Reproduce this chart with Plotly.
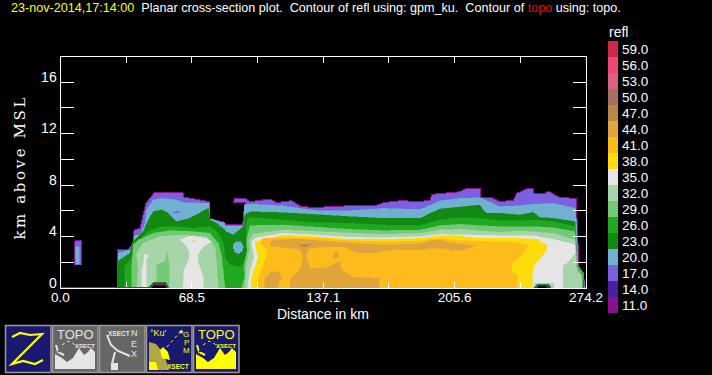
import plotly.graph_objects as go

# ---------- data ----------
levels = ["59.0","56.0","53.0","50.0","47.0","44.0","41.0","38.0","35.0","32.0","29.0","26.0","23.0","20.0","17.0","14.0","11.0"]
level_colors = ["#cc2a4a","#f04676","#dc6080","#a87060","#b8884a","#e0a53a","#fdbc1b","#fddc0c","#e5e5e5","#a5d5a8","#75c875","#20a820","#128a12","#70b0d0","#7b60e0","#4a1fa0","#8b1090"]
C = dict(zip([int(float(l)) for l in levels], level_colors))

x_ticks = [0,34.27,68.5,102.8,137.1,171.4,205.6,239.9,274.2]
x_labels = ["0.0","","68.5","","137.1","","205.6","","274.2"]
y_ticks = [0,2,4,6,8,10,12,14,16,18]
y_labels = ["0","","4","","8","","12","","16",""]

topo_x = [0,46.6]
topo_y = [0,0]

outer = [(29.5,0),(29.5,2.96),(35.2,2.96),(37.8,3.5),(38.4,4.51),(41.5,4.67),(44.6,6.61),(48.8,7.39),(63.9,7.39),(64.4,7.08),(78,6.69),(77.5,5.37),(85.3,5.13),(86.4,4.9),(94.7,4.9),(95.8,5.29),(96.3,6.61),(90,6.61),(91.1,7),(96.8,6.92),(98.9,6.71),(109.3,6.92),(112.8,6.64),(120.6,6.79),(125.9,6.32),(133.7,6.27),(148.5,6.38),(164.1,6.38),(168.5,6.64),(178,6.79),(187.6,6.71),(192.8,6.84),(193.7,7.28),(208.5,7.49),(211.9,7.75),(218.9,7.75),(219.2,7.03),(225,7.03),(229.3,6.71),(236.3,6.84),(238,7.36),(243.2,7.7),(246.7,7.75),(247.1,7.36),(252.8,7.36),(254.5,7.54),(260.6,7.03),(269,6.97),(269.7,4.77),(270.5,1.53),(272.8,1.14),(273.8,0)]
column_17 = [(7.4,1.79),(7.4,3.6),(8.5,3.73),(11.1,3.73),(11.1,1.79)]
column_20 = [(7.9,1.9),(7.9,3.2),(9.8,3.2),(9.8,1.9)]
lvl_20 = [(29.6,0),(30.1,2.7),(36.2,2.96),(37.6,3.48),(38.8,4.12),(41.5,4.12),(44.1,5.03),(44.9,6.07),(48.4,6.84),(52.8,6.97),(60.6,6.84),(64.1,6.64),(77.6,6.58),(77.6,5.42),(85.8,5.03),(85.8,4.82),(95.4,4.82),(95.9,6.45),(98.9,6.53),(116.1,6.38),(133.8,6.01),(151.1,6.01),(168.3,6.19),(187.6,6.1),(198,6.77),(208.5,6.97),(218.9,7.02),(229.3,6.32),(239.8,6.4),(246.6,6.51),(257,6.58),(268.5,6.2),(269.2,5.16),(269.9,1.79),(273,1.14),(273.3,0)]
island_17 = [(58.8,5.86),(60.6,5.99),(62.3,5.86)]
lvl_23 = [(29.6,0),(29.6,2.05),(36.2,2.7),(37.6,3.6),(40.6,3.99),(43.2,4.38),(45.8,5.29),(48.4,5.94),(52.8,6.07),(56.2,5.81),(60.6,5.16),(67.5,5.42),(77.1,6.2),(78,5.29),(81.4,5.03),(86.7,4.38),(90.1,4.12),(95.4,4.77),(96.2,5.68),(98.9,5.93),(116.1,5.86),(133.8,5.68),(151.1,5.55),(168.3,5.42),(187.6,5.42),(198,6.14),(208.5,6.32),(218.9,6.45),(220.5,6.07),(222.4,5.81),(229.3,5.81),(239.8,5.68),(246.6,5.88),(250,5.49),(257,5.42),(268.5,5.16),(269.5,1.79),(272.8,1.07),(273,0)]
eye_20 = [(89.8,3.35),(91.5,3.6),(94,3.6),(95.4,3.2),(94.5,2.83),(92.8,2.65),(90.5,2.83)]

main_km = [98.9,116.1,133.8,151.1,168.3,187.6,198,208.5,218.9,229.3,239.8,246.6,257,268.4]
top_26 = [5.49,5.29,5.08,5.03,4.9,4.85,5.29,5.47,5.42,5.21,5.21,5.29,5.16,4.77]
top_29 = [4.85,4.9,4.72,4.56,4.46,4.51,4.85,4.95,4.85,4.77,4.77,4.77,4.69,4.38]
top_32 = [4.38,4.51,4.38,4.25,4.17,4.25,4.51,4.56,4.43,4.33,4.43,4.38,4.25,3.73]
top_35 = [3.99,4.25,4.12,3.94,3.91,3.99,4.17,4.12,4.07,4.07,4.07,4.07,3.78,3.39]
top_38 = [4.12,3.99,3.78,3.78,3.86,4.07,4.04,3.86,3.86,3.86]

left_26 = [(33.6,0),(33.6,1.66),(38,2.57),(38,3.48),(41.5,3.73),(45.8,4.38),(52.8,4.77),(60.6,4.77),(69.3,4.64),(78,4.77),(82.3,4.25),(84.9,3.48),(85.8,2.44),(88.1,1.79),(93.6,1.61),(97.4,2.18),(98.1,3.2),(96.8,4.25),(97.4,5.16)]
right_26 = [(269.4,1.79),(272.5,1.07),(272.6,0)]
lvl_29_left = [(37.1,0),(37.1,1.4),(38,3.35),(40.6,3.73),(48.4,4.25),(57.1,4.46),(69.3,4.38),(78,4.25),(82.3,3.48),(84.1,2.44),(85.8,0)]
left_29 = [(94.5,0),(96.2,.89),(95.7,1.79),(97.4,2.83),(97.1,3.73),(98.5,4.64)]
right_29 = [(269.2,1.79),(272.1,1.01),(272.3,0)]
lvl_32_left = [(39.7,0),(40.6,1.4),(39.7,2.7),(43.2,3.48),(51.9,3.99),(62.3,4.12),(76.2,3.99),(80.6,3.22),(81.4,1.92),(82.3,0)]
island_29 = [(50.1,0),(50.1,1.79),(54.5,2.05),(55.7,2.7),(56.8,1.66),(56.8,0)]
left_32 = [(96.2,0),(97.1,1.79),(98.8,2.96),(98.5,3.73),(100.6,4.2)]
right_32 = [(269,2.83),(269.3,1.27),(271.8,1.01),(272,0)]
lvl_35_main = [(64.1,0),(64.4,1.4),(66.7,2.05),(67.5,2.7),(65.5,3.35),(62.3,3.73),(67.5,4.05),(76.2,3.86),(78.8,3.6),(74.5,3.22),(71.4,2.57),(71.9,1.92),(74.5,.89),(74.5,0)]
lvl_35_small = [(42.3,0),(42.3,1.4),(43.5,2.05),(43.7,2.57),(45.8,2.57),(44.6,2.18),(44.9,0)]
left_35 = [(98,0),(98.5,.89),(101,2.44),(100.2,3.35),(99.7,3.6),(102.3,3.92)]
right_35 = [(268.5,2.7),(264.1,1.92),(262,1.79),(262,0)]
left_38 = [(99.4,0),(99.4,.75),(103.2,2.31),(101.5,3.6)]
right_38 = [(248.5,3.78),(253.9,3.34),(253.3,2.82),(246.6,1.66),(246.1,1.01),(246.1,0)]
tiny_38 = [(68.4,3.66),(70.1,3.66),(70.1,3.58),(68.4,3.58)]
lvl_41 = [(102.7,0),(103.2,.75),(107.2,2.31),(107.9,2.96),(104.1,3.47),(105.8,3.86),(116.1,3.91),(133.8,3.86),(151.1,3.68),(168.3,3.6),(187.6,3.66),(198,3.86),(208.5,3.68),(222.4,3.6),(236.3,3.55),(244.1,3.34),(239.8,2.44),(235.4,1.92),(235.4,1.27),(238.4,1.01),(238.4,0)]
lvl_44 = [(109.3,3.35),(110.2,3.73),(125,3.79),(133.7,3.68),(151.1,3.48),(168.5,3.35),(187.6,3.42),(192.8,3.66),(198,3.73),(205,3.48),(216.3,3.3),(210.2,2.96),(205,2.91),(199.8,3.09),(192.8,3.09),(187.6,2.96),(173.7,3.01),(165,2.75),(154.6,2.75),(147.6,3.22),(133.7,3.17),(129.3,3.01),(128.1,2.44),(130.2,1.53),(138,1.53),(145.9,2.05),(146.7,1.4),(152.8,.83),(166.4,.76),(166.4,0),(119.8,0),(119.8,.63),(125,1.4),(126.7,2.31),(125,3.01),(116.3,3.17),(111.1,3.22)]
blob_44 = [(106.7,0),(106.7,.76),(110.2,1.27),(113.7,1.27),(115.4,.76),(113.7,.37),(113.7,0)]
island_44 = [(142.4,2.31),(143.2,2.83),(145,2.83),(144.5,2.31)]
lvl_47 = [(124.6,3.35),(131.1,3.4),(128.5,3.22),(125.9,3.22)]
hole_left_rim = [(46,0),(48.6,.42),(55,.42),(56.4,0)]
hole_left = [(47,0),(49.3,.3),(54.5,.3),(55.4,0)]
patch_right = [(246.7,0),(247.6,.36),(257.5,.36),(257.5,0)]
hole_right_rim = [(247.6,0),(249.3,.28),(254.6,.28),(255.8,0)]
hole_right = [(248.8,0),(249.9,.18),(253.3,.18),(254.2,0)]

def band(left, stations, tops, right):
    return left + list(zip(stations, tops)) + right

polys = [
    (outer, C[17], C[11], 1), (column_17, C[17], C[11], 1), (column_20, C[20], None, 0),
    (lvl_20, C[20], None, 0), (island_17, C[17], None, 0), (lvl_23, C[23], None, 0), (eye_20, C[20], None, 0),
    (band(left_26, main_km, top_26, right_26), C[26], None, 0),
    (lvl_29_left, C[29], None, 0),
    (band(left_29, main_km, top_29, right_29), C[29], None, 0),
    (lvl_32_left, C[32], None, 0), (island_29, C[29], None, 0),
    (band(left_32, main_km[1:], top_32[1:], right_32), C[32], None, 0),
    (lvl_35_main, C[35], None, 0), (lvl_35_small, C[35], None, 0),
    (band(left_35, main_km[1:], top_35[1:], right_35), C[35], None, 0),
    (tiny_38, C[38], None, 0),
    (band(left_38, main_km[1:11], top_38, right_38), C[38], None, 0),
    (lvl_41, C[41], None, 0), (lvl_44, C[44], None, 0), (blob_44, C[44], None, 0), (island_44, C[44], None, 0),
    (lvl_47, C[47], None, 0),
    (hole_left_rim, C[11], C[23], 1), (hole_left, "#000000", C[11], 1),
    (patch_right, C[32], None, 0), (hole_right_rim, C[14], C[23], 1.5), (hole_right, "#000000", C[11], 1),
]

# ---------- figure ----------
W, H = 712, 375
fig = go.Figure()
for pts, fill, line, lw in polys:
    fig.add_trace(go.Scatter(
        x=[p[0] for p in pts], y=[p[1] for p in pts], mode="lines", fill="toself",
        fillcolor=fill, line=dict(color=line or fill, width=lw if line else 0.5),
        hoverinfo="skip", showlegend=False, xaxis="x", yaxis="y"))

fig.add_trace(go.Bar(x=[1]*len(levels), y=levels, orientation="h", width=1,
                     marker=dict(color=level_colors, line=dict(width=0)),
                     hoverinfo="skip", showlegend=False, xaxis="x2", yaxis="y2"))

TXT = "Liberation Sans"
shapes = [dict(type="line", xref="x", yref="y", x0=topo_x[0], x1=topo_x[1], y0=topo_y[0], y1=topo_y[1],
               line=dict(color="#ff0000", width=2), layer="above")]
annots = []

def fx(v): return v / W
def fy(v): return 1 - v / H
def note(x, y, text, color="#ffffff", size=14, font=TXT, anchor="center", angle=0):
    annots.append(dict(xref="paper", yref="paper", x=fx(x), y=fy(y), text=text, showarrow=False,
                       xanchor=anchor, yanchor="middle", textangle=angle, borderpad=0,
                       font=dict(color=color, size=size, family=font)))
def rect(x0, y0, x1, y1, fill, line=None, lw=0):
    shapes.append(dict(type="rect", xref="paper", yref="paper", x0=fx(x0), x1=fx(x1), y0=fy(y0), y1=fy(y1),
                       fillcolor=fill, line=dict(color=line or fill, width=lw)))
def path(points, fill=None, line=None, lw=1, close=False, dash=None):
    d = "M" + " L".join(f"{fx(a):.5f},{fy(b):.5f}" for a, b in points) + (" Z" if close else "")
    shapes.append(dict(type="path", xref="paper", yref="paper", path=d, fillcolor=fill or "rgba(0,0,0,0)",
                       line=dict(color=line or "rgba(0,0,0,0)", width=lw if line else 0, dash=dash or "solid")))

# title
note(10, 8, '<span style="color:#ffff00">23-nov-2014,17:14:00</span>\u00a0\u00a0Planar cross-section plot.\u00a0\u00a0Contour of refl using: gpm_ku.\u00a0\u00a0Contour of <span style="color:#ff0000">topo</span> using: topo.',
     size=12.6, anchor="left")
note(323, 314, "Distance in km", size=14)
note(20, 168, "km above MSL", size=15, font="DejaVu Serif", angle=-90)
note(608, 32, "refl", size=14, anchor="left")

# icons
NAVY, GREY, EDGE, WHITE, YEL = "#191970", "#666666", "#9a9a9a", "#e5e5e5", "#ffff00"
for x0, fill in [(5, NAVY), (52, GREY), (99, GREY), (146, NAVY), (193, NAVY)]:
    rect(x0+0.5, 325.5, x0+46, 372.5, fill, EDGE, 1.5)
# Z
path([(12,337),(20,333),(30,335),(42,334),(12,364),(23,361),(35,364),(43,360)], line=YEL, lw=2.2)
# TOPO icons
for dx, col, bg in [(0, WHITE, GREY), (141, YEL, NAVY)]:
    path([(55+dx,369),(55+dx,354),(62+dx,358),(67+dx,362),(73+dx,358),(79+dx,348),(84+dx,355),(88+dx,352),(91+dx,348),(95+dx,352),(95+dx,369)], fill=col, close=True)
    note(75+dx, 334.5, "TOPO", color=col, size=13)
    note(85+dx, 345.5, "<b>XSECT</b>", color=col, size=6)
    path([(56+dx,345),(58+dx,352),(64+dx,355)], line=col, lw=2)
    path([(58+dx,352),(61+dx,349)], line=bg, lw=2)
    path([(62+dx,345),(68+dx,341),(74+dx,344),(77+dx,348)], line=col, lw=1, dash="dot")
# NEX icon
note(119, 333, "<b>XSECT</b>", color=WHITE, size=6.5)
note(134, 333, "N", color=WHITE, size=9); note(134, 344, "E", color=WHITE, size=9); note(134, 354, "X", color=WHITE, size=9)
path([(107,335),(111,345),(118,351),(130,356)], line=WHITE, lw=2)
path([(115,352),(112,364),(118,364)], line=WHITE, lw=2)
rect(111, 364, 118, 370, WHITE)
# GPM icon
note(158, 333, "\u00b0Ku'", color=YEL, size=9)
note(186, 334, "G", color=YEL, size=8); note(186, 342, "P", color=YEL, size=8); note(186, 350, "M", color=YEL, size=8)
note(178, 366, "<b>XSECT</b>", color=YEL, size=6.5)
path([(149,370),(149,342),(156,344),(164,354),(169,370)], fill="#b0a840", close=True)
path([(160,350),(163,347),(168,352),(170,360),(162,358)], fill=YEL, close=True)
path([(149,370),(149,362),(156,362),(158,370)], fill=YEL, close=True)
path([(167,347),(181,331)], line=YEL, lw=1, dash="dot")
note(181, 331, "\u2605", color=YEL, size=7)

fig.update_layout(
    width=W, height=H, autosize=False, margin=dict(l=0, r=0, t=0, b=0, pad=0),
    paper_bgcolor="#000000", plot_bgcolor="#000000", showlegend=False, bargap=0,
    font=dict(family=TXT, color="#ffffff", size=14),
    xaxis=dict(domain=[60.5/W, 586/W], range=[0, 274.2], tickmode="array", tickvals=x_ticks, ticktext=x_labels,
               ticks="inside", ticklen=6, tickcolor="#fff", tickwidth=1, showline=True, linecolor="#fff", linewidth=1,
               mirror="ticks", showgrid=False, zeroline=False, tickangle=0, tickfont=dict(size=13.5, color="#fff"),
               automargin=False, ticklabelstandoff=-3),
    yaxis=dict(domain=[1-288/H, 1-56.5/H], range=[0, 18], tickmode="array", tickvals=y_ticks, ticktext=y_labels,
               ticks="inside", ticklen=13, tickcolor="#fff", tickwidth=1, showline=True, linecolor="#fff", linewidth=1,
               mirror="ticks", showgrid=False, zeroline=False, tickfont=dict(size=14, color="#fff"), automargin=False,
               ticklabelposition="outside top", ticklabelshift=5),
    xaxis2=dict(domain=[608/W, 618/W], range=[0, 1], anchor="y2", visible=False, showgrid=False, zeroline=False, automargin=False),
    yaxis2=dict(domain=[1-313/H, 1-41/H], anchor="x2", side="right", type="category", categoryorder="array",
                categoryarray=levels[::-1], showgrid=False, zeroline=False, showline=False, ticks="",
                tickmode="array", tickvals=levels, ticktext=levels, automargin=False, ticklabelstandoff=3,
                tickfont=dict(size=13.5, color="#fff")),
    shapes=shapes, annotations=annots,
)

post = """
document.body.style.margin='0';document.body.style.overflow='hidden';
document.querySelectorAll('.scatterlayer path,.barlayer path').forEach(function(p){p.style.shapeRendering='crispEdges';});
document.querySelectorAll('.annotation-text').forEach(function(t){if(t.textContent.indexOf('km above')===0){t.style.letterSpacing='2.6px';}});
"""
fig.write_html("out.html", post_script=post, config={"displayModeBar": False})
